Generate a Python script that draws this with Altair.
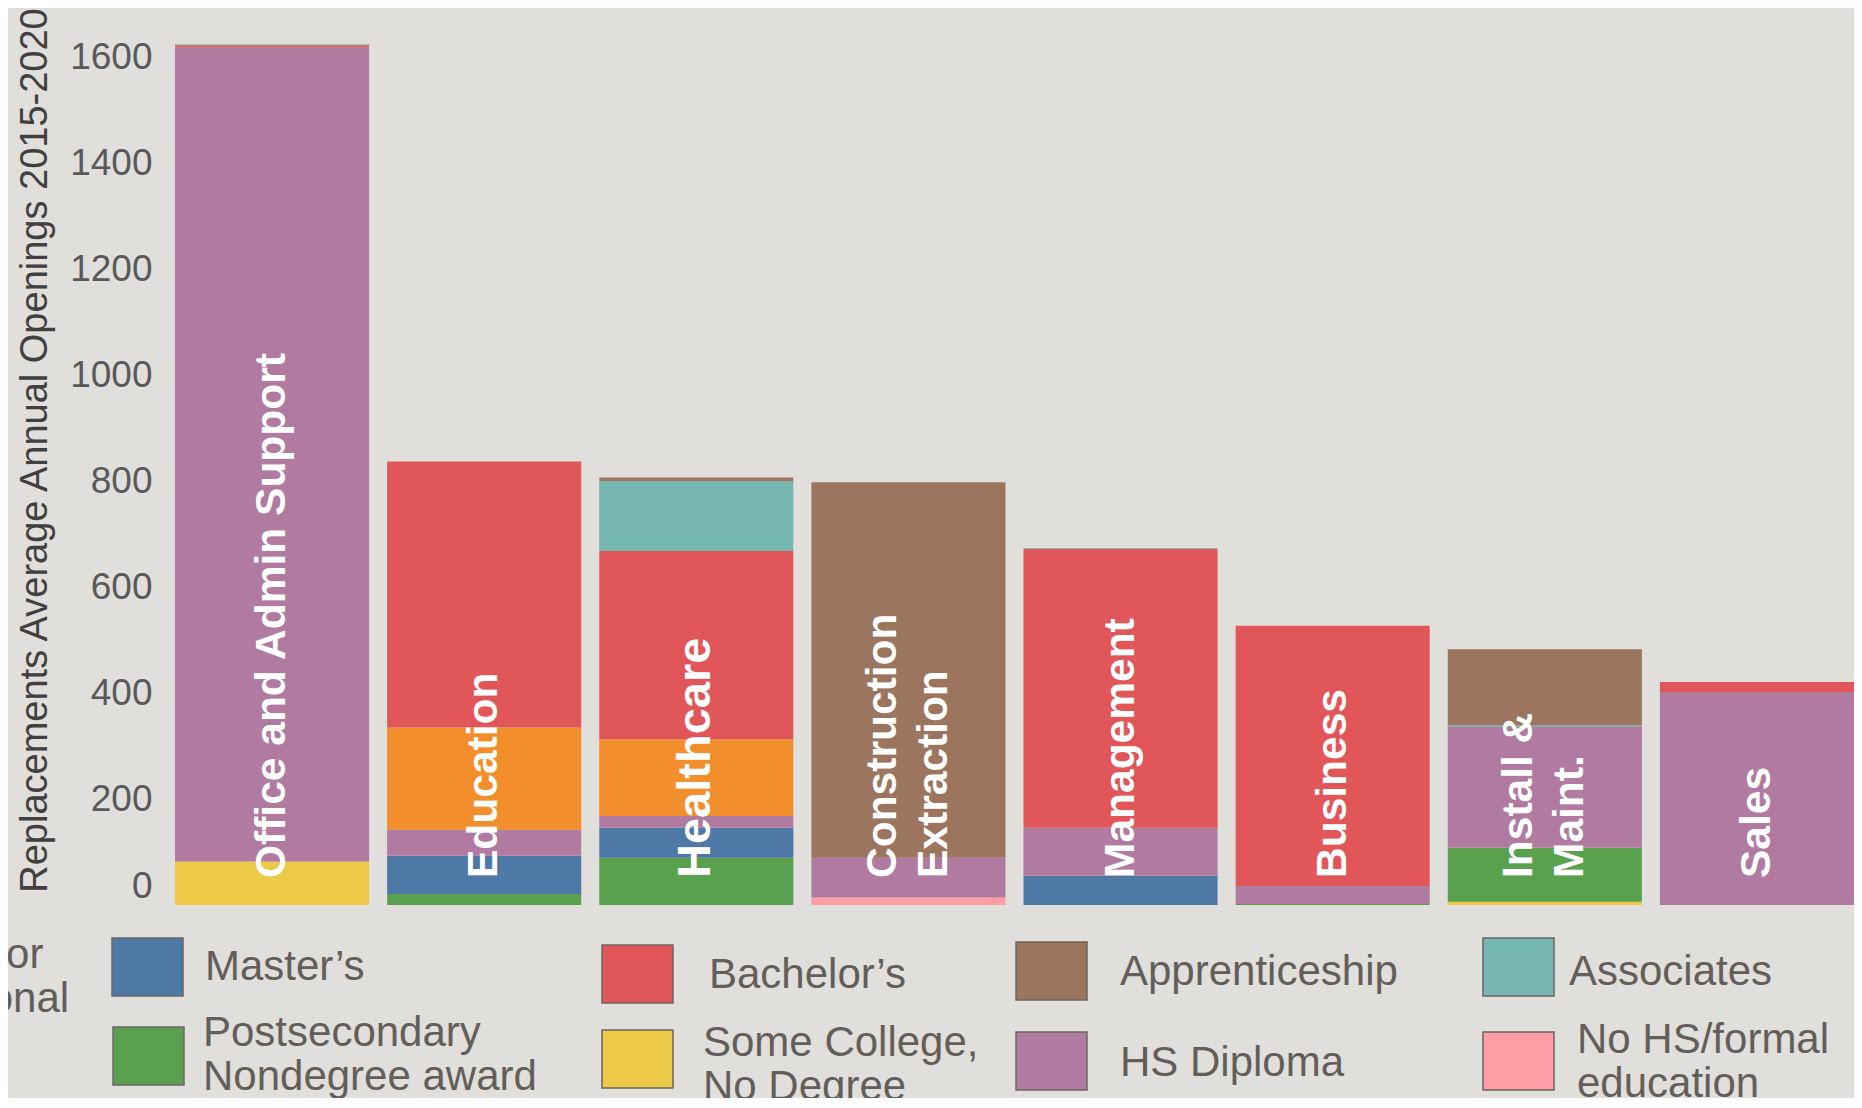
import altair as alt
import pandas as pd

# ---------------- data ----------------
categories = ["Office and Admin Support", "Education", "Healthcare",
              "Construction Extraction", "Management", "Business",
              "Install & Maint.", "Sales"]
bar_labels = ["Office and Admin Support", "Education", "Healthcare",
              "Construction\nExtraction", "Management", "Business",
              "Install &\nMaint.", "Sales"]
label_sizes = [42.5, 42.5, 47, 42.5, 42.5, 42.5, 42.5, 42.5]

# stacking order, bottom -> top
levels = ["No HS/formal education", "Some College, No Degree",
          "Postsecondary Nondegree award", "Master’s", "HS Diploma",
          "Doctoral or Professional", "Bachelor’s", "Associates",
          "Apprenticeship"]
colors = ["#ff9da7", "#edc948", "#59a14f", "#4e79a7", "#b07aa1",
          "#f28e2b", "#e15759", "#76b7b2", "#9c755f"]

no_hs          = [0,    0,   0,   14,  0,   0,   0,   0]
some_college   = [82,   0,   0,   0,   0,   0,   6,   0]
postsecondary  = [0,    21,  89,  0,   0,   2,   102, 0]
masters        = [0,    72,  57,  0,   55,  0,   0,   0]
hs_diploma     = [1537, 49,  22,  75,  91,  34,  228, 402]
doctoral       = [0,    193, 145, 0,   0,   0,   0,   0]
bachelors      = [4,    502, 355, 0,   526, 491, 0,   19]
associates     = [2,    0,   132, 0,   2,   0,   3,   0]
apprenticeship = [0,    0,   7,   709, 0,   0,   144, 0]

series = [no_hs, some_college, postsecondary, masters, hs_diploma,
          doctoral, bachelors, associates, apprenticeship]

y_ticks = [0, 200, 400, 600, 800, 1000, 1200, 1400, 1600]

# legend entries
legend_levels = ["Master’s", "Postsecondary Nondegree award", "Bachelor’s",
                 "Some College, No Degree", "Apprenticeship", "HS Diploma",
                 "Associates", "No HS/formal education"]
legend_texts = ["Master’s", "Postsecondary\nNondegree award", "Bachelor’s",
                "Some College,\nNo Degree", "Apprenticeship", "HS Diploma",
                "Associates", "No HS/formal\neducation",
                "Doctoral or\nProfessional"]

# legend layout (pixels, plot coordinates; text y = first line centre)
sw_x  = [-63, -62, 427, 427, 841, 841, 1308, 1308]
sw_y  = [923, 1012, 930, 1015, 927, 1017, 923, 1017]
sw_w, sw_h = 71, 58
txt_x = [30, 28, 534, 528, 945, 945, 1394, 1402, -337]
txt_y = [952, 1018, 960, 1028, 957, 1048, 957, 1025, 940]

# ---------------- tables ----------------
rows = []
for li, lev in enumerate(levels):
    for ci, cat in enumerate(categories):
        v = series[li][ci]
        if v > 0:
            rows.append({"cat": cat, "level": lev, "value": v, "ord": li})
df = pd.DataFrame(rows)

lab_df = pd.DataFrame({
    "cat": categories, "label": bar_labels, "size": label_sizes,
    "nlines": [s.count("\n") + 1 for s in bar_labels],
})

leg_rect_df = pd.DataFrame({
    "level": legend_levels,
    "x": sw_x, "x2": [v + sw_w for v in sw_x],
    "y": sw_y, "y2": [v + sw_h for v in sw_y],
})
leg_txt_df = pd.DataFrame({"text": legend_texts, "x": txt_x, "y": txt_y})

W, H = 1679, 890
YMAX = 1680
FONT = "Liberation Sans"
LH = 51

color_scale = alt.Scale(domain=levels, range=colors)
x_scale = alt.Scale(domain=categories, paddingInner=0.085, paddingOuter=0)

bars = alt.Chart(df).mark_bar().encode(
    x=alt.X("cat:N", sort=categories, scale=x_scale, axis=None),
    y=alt.Y("value:Q", stack="zero",
            scale=alt.Scale(domain=[0, YMAX], nice=False),
            axis=alt.Axis(values=y_ticks, format="d", grid=False,
                          domain=False, ticks=False, tickSize=0,
                          labelPadding=23, labelFlush=True, labelFont=FONT,
                          labelFontSize=37, labelColor="#595959",
                          title="Replacements Average Annual Openings 2015-2020",
                          titleFont=FONT, titleFontSize=38,
                          titleFontWeight="normal", titleColor="#404040",
                          titleAngle=270, titleAlign="center",
                          titleBaseline="middle", titleX=-140, titleY=435)),
    color=alt.Color("level:N", scale=color_scale, legend=None),
    order=alt.Order("ord:Q", sort="ascending"),
)


def label_layer(n):
    return alt.Chart(lab_df).transform_filter(
        alt.datum.nlines == n
    ).mark_text(
        angle=270, align="left", baseline="middle", font=FONT,
        fontWeight="bold", color="white", lineBreak="\n",
        lineHeight=LH, dy=-(n - 1) * LH / 2,
    ).encode(
        x=alt.X("cat:N", sort=categories, scale=x_scale, axis=None),
        y=alt.value(863),
        text="label:N",
        size=alt.Size("size:Q", scale=None, legend=None),
    )


labels1 = label_layer(1)
labels2 = label_layer(2)

leg_rects = alt.Chart(leg_rect_df).mark_rect(
    stroke="#6b6560", strokeWidth=1.5
).encode(
    x=alt.X("x:Q", scale=None, axis=None), x2="x2:Q",
    y=alt.Y("y:Q", scale=None, axis=None), y2="y2:Q",
    color=alt.Color("level:N", scale=color_scale, legend=None),
)

leg_text = alt.Chart(leg_txt_df).mark_text(
    align="left", baseline="middle", font=FONT, fontSize=42,
    color="#635e5a", lineBreak="\n", lineHeight=44,
).encode(
    x=alt.X("x:Q", scale=None, axis=None),
    y=alt.Y("y:Q", scale=None, axis=None),
    text="text:N",
)

chart = alt.layer(bars, labels1, labels2, leg_rects, leg_text).properties(
    width=W, height=H, background="#e0dfdb",
    padding={"left": 167, "top": 7, "right": 0, "bottom": 193},
    autosize=alt.AutoSizeParams(type="none"),
).configure_view(stroke=None)

chart.save("out.html", embed_options={"renderer": "svg", "actions": False})
